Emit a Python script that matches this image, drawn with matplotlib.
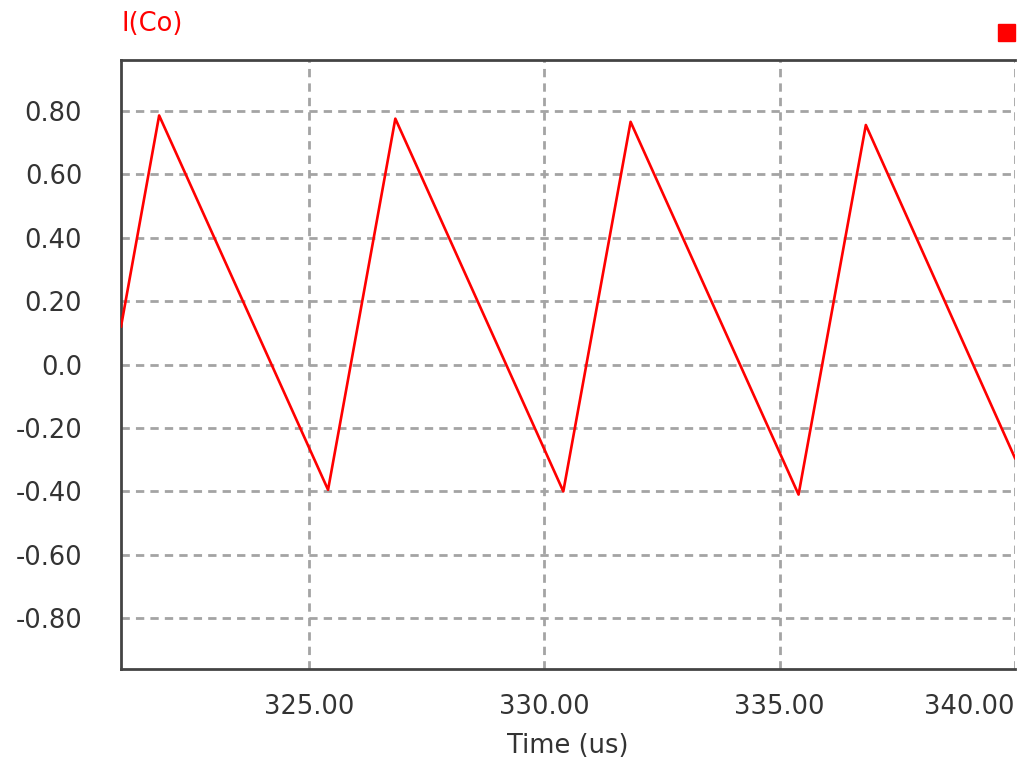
import numpy as np
import matplotlib.pyplot as plt

# waveform corners (time in us, current in A)
t = [321.0, 321.81, 325.40, 326.83, 330.40, 331.83, 335.40, 336.83, 340.0]
i_co = [0.12, 0.785, -0.395, 0.775, -0.40, 0.765, -0.41, 0.755, -0.295]

x_ticks = [325, 330, 335, 340]
x_labels = ['325.00', '330.00', '335.00', '340.00']
y_ticks = [0.8, 0.6, 0.4, 0.2, 0.0, -0.2, -0.4, -0.6, -0.8]
y_labels = ['0.80', '0.60', '0.40', '0.20', '0.0', '-0.20', '-0.40', '-0.60', '-0.80']

fig = plt.figure(figsize=(10.24, 7.64), dpi=100)
ax = fig.add_axes([0.1182, 0.1243, 0.873, 0.7972])

ax.plot(t, i_co, color='#ff0000', lw=1.9, zorder=3)

ax.set_xlim(321, 340)
ax.set_ylim(-0.96, 0.96)
ax.set_xticks(x_ticks)
ax.set_xticklabels(x_labels)
ax.set_yticks(y_ticks)
ax.set_yticklabels(y_labels)
ax.get_xticklabels()[-1].set_ha('right')
ax.get_xticklabels()[-1].set_x(340.1)

ax.tick_params(length=0, labelsize=18.5, colors='#333333')
ax.tick_params(axis='y', pad=28)
ax.tick_params(axis='x', pad=18)

ax.grid(True, color='#a4a4a4', ls=(0, (3, 2.2)), lw=2)
for side in ['left', 'top', 'bottom']:
    ax.spines[side].set_color('#444444')
    ax.spines[side].set_linewidth(2)
ax.spines['right'].set_visible(False)

ax.set_xlabel('Time (us)', fontsize=18.5, color='#333333', labelpad=9.5)
fig.text(0.119, 0.968, 'I(Co)', color='#ff0000', fontsize=18.5, ha='left', va='center')
fig.patches.append(plt.Rectangle((0.9746, 0.946), 0.0166, 0.0228, transform=fig.transFigure,
                                 color='#ff0000', zorder=5))

fig.savefig('out.png', dpi=100)
